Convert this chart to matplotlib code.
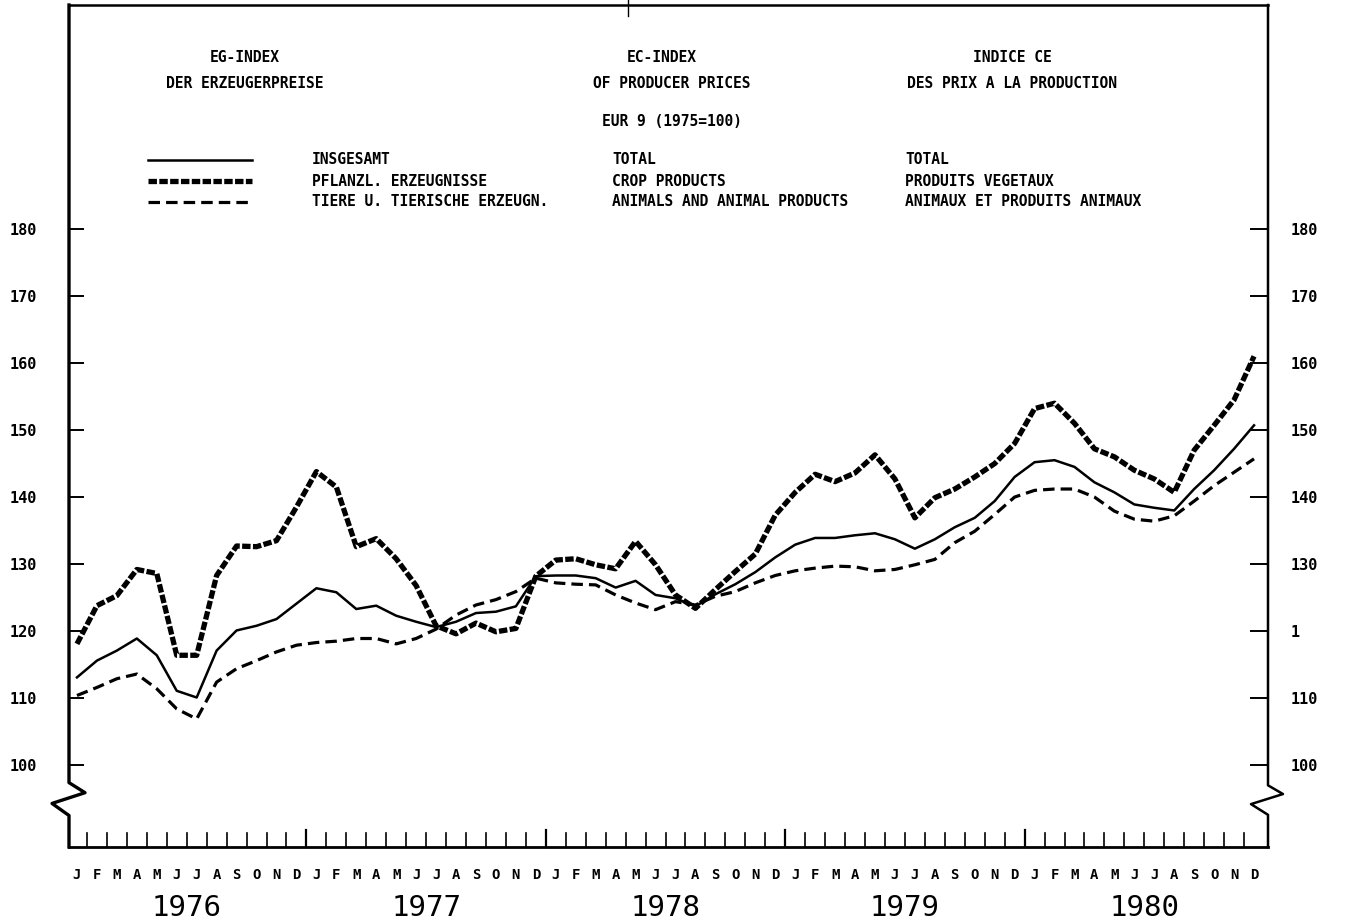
import matplotlib.pyplot as plt
from matplotlib.lines import Line2D
import numpy as np

# EC index of producer prices, EUR 9 (1975=100), monthly Jan 1976 - Dec 1980
months = ["J", "F", "M", "A", "M", "J", "J", "A", "S", "O", "N", "D"] * 5
years = ["1976", "1977", "1978", "1979", "1980"]

total = [113.1, 115.6, 117.1, 118.9, 116.4, 111.1, 110.1, 117.1, 120.1, 120.8, 121.8, 124.1,
         126.4, 125.8, 123.3, 123.8, 122.3, 121.4, 120.6, 121.4, 122.7, 122.9, 123.7, 128.2,
         128.3, 128.3, 127.9, 126.5, 127.5, 125.4, 124.9, 123.7, 125.5, 127.0, 128.8, 131.0,
         132.9, 133.9, 133.9, 134.3, 134.6, 133.7, 132.3, 133.7, 135.5, 136.9, 139.4, 143.0,
         145.2, 145.5, 144.5, 142.2, 140.7, 138.9, 138.4, 138.0, 141.2, 144.0, 147.2, 150.7]

crop = [118.1, 123.8, 125.3, 129.2, 128.6, 116.4, 116.4, 128.3, 132.7, 132.6, 133.5, 138.5,
        143.8, 141.5, 132.6, 133.8, 130.8, 126.8, 120.8, 119.6, 121.2, 119.9, 120.4, 128.2,
        130.6, 130.8, 129.9, 129.3, 133.4, 129.9, 125.4, 123.4, 126.2, 128.9, 131.5, 137.3,
        140.7, 143.4, 142.3, 143.6, 146.3, 142.7, 136.9, 139.9, 141.2, 143.0, 145.0, 148.0,
        153.2, 154.0, 151.0, 147.2, 146.0, 144.0, 142.7, 140.7, 147.0, 150.7, 154.5, 161.0]

animal = [110.4, 111.6, 112.9, 113.6, 111.4, 108.4, 106.9, 112.4, 114.4, 115.6, 116.9, 117.9,
          118.3, 118.5, 118.9, 118.9, 118.1, 118.9, 120.3, 122.4, 123.9, 124.7, 125.9, 127.9,
          127.2, 127.0, 126.9, 125.4, 124.2, 123.2, 124.4, 123.9, 125.2, 125.9, 127.2, 128.3,
          129.0, 129.4, 129.7, 129.6, 129.0, 129.2, 129.9, 130.7, 133.2, 134.9, 137.4, 140.0,
          141.0, 141.2, 141.2, 140.0, 137.9, 136.7, 136.4, 137.2, 139.4, 141.7, 143.7, 145.7]

yticks = [100, 110, 120, 130, 140, 150, 160, 170, 180]
left_labels = ["100", "110", "120", "130", "140", "150", "160", "170", "180"]
right_labels = ["100", "110", "1", "130", "140", "150", "160", "170", "180"]

W, H = 1345, 924
fig = plt.figure(figsize=(W / 100, H / 100), dpi=100)
ax = fig.add_axes([69 / W, 1 - 847 / H, (1268 - 69) / W, (847 - 5) / H])

x = np.arange(len(total))
ax.plot(x, total, color="black", lw=1.8, solid_joinstyle="round")
ax.plot(x, crop, color="black", lw=3.8, linestyle=(0, (1.6, 0.45)))
ax.plot(x, animal, color="black", lw=2.3, linestyle=(0, (3.6, 1.9)))

ax.set_xlim(-0.4, 59.7)
ax.set_ylim(87.8, 213.4)

for s in ax.spines.values():
    s.set_visible(False)

mono = "DejaVu Sans Mono"

# y ticks both sides, pointing inwards
ax.set_yticks(yticks)
ax.set_yticklabels(left_labels, fontfamily=mono, fontweight="bold", fontsize=11)
ax.tick_params(axis="y", direction="in", length=11, width=1.4, pad=23)
ax2 = ax.twinx()
ax2.set_ylim(ax.get_ylim())
ax2.set_yticks(yticks)
ax2.set_yticklabels(right_labels, fontfamily=mono, fontweight="bold", fontsize=11)
ax2.tick_params(axis="y", direction="in", length=13, width=1.4, pad=16)
for s in ax2.spines.values():
    s.set_visible(False)

# month letters at centres, ticks at boundaries
ax.set_xticks(x)
ax.set_xticklabels(months, fontfamily=mono, fontweight="bold", fontsize=10)
ax.tick_params(axis="x", length=0, pad=15)
bounds = np.arange(0.5, 59, 1.0)
for b in bounds:
    tall = (b + 0.5) % 12 == 0
    ax.plot([b, b], [87.8, 87.8 + (2.6 if tall else 2.1)], color="black",
            lw=1.6 if tall else 1.2, clip_on=False)

for k, yr in enumerate(years):
    ax.text(5.5 + 12 * k, -0.072, yr, transform=ax.get_xaxis_transform(),
            ha="center", va="center", fontfamily=mono, fontsize=21)

# frame with axis breaks
px = 60.1 / (1268 - 69)
x0, x1 = -0.4, 59.7
ax.plot([x0, x1], [87.8, 87.8], color="black", lw=2.0, clip_on=False)
ax.plot([x0, x0, x0 + 16 * px, x0 - 17 * px, x0, x0],
        [213.4, 97.4, 95.9, 94.3, 92.5, 87.8], color="black", lw=2.4, clip_on=False)
ax.plot([x1, x1, x1 + 15 * px, x1 - 17 * px, x1, x1],
        [213.4, 97.0, 95.7, 94.2, 92.6, 87.8], color="black", lw=1.8, clip_on=False)
ax.plot([x0, x1], [213.4, 213.4], color="black", lw=1.8, clip_on=False)
fig.add_artist(Line2D([628 / W, 628 / W], [1 - 16 / H, 1.0], color="black", lw=1.0))

# header texts
def ftext(px_x, px_y, s, ha="center"):
    fig.text(px_x / W, 1 - px_y / H, s, ha=ha, va="center", fontfamily=mono,
             fontweight="bold", fontsize=10.5)

ftext(245, 58, "EG-INDEX")
ftext(245, 83, "DER ERZEUGERPREISE")
ftext(662, 58, "EC-INDEX")
ftext(672, 83, "OF PRODUCER PRICES")
ftext(1012, 58, "INDICE CE")
ftext(1012, 83, "DES PRIX A LA PRODUCTION")
ftext(672, 122, "EUR 9 (1975=100)")

rows = [
    ("INSGESAMT", "TOTAL", "TOTAL"),
    ("PFLANZL. ERZEUGNISSE", "CROP PRODUCTS", "PRODUITS VEGETAUX"),
    ("TIERE U. TIERISCHE ERZEUGN.", "ANIMALS AND ANIMAL PRODUCTS", "ANIMAUX ET PRODUITS ANIMAUX"),
]
row_y = [160, 181, 202]
styles = [dict(lw=1.8, linestyle="-"),
          dict(lw=3.8, linestyle=(0, (1.6, 0.45))),
          dict(lw=2.3, linestyle=(0, (3.6, 1.9)))]
for (de, en, fr), yy, st in zip(rows, row_y, styles):
    fig.add_artist(Line2D([148 / W, 252 / W], [1 - yy / H, 1 - yy / H], color="black", **st))
    ftext(312, yy, de, ha="left")
    ftext(612, yy, en, ha="left")
    ftext(905, yy, fr, ha="left")

fig.savefig("out.png", dpi=100)
